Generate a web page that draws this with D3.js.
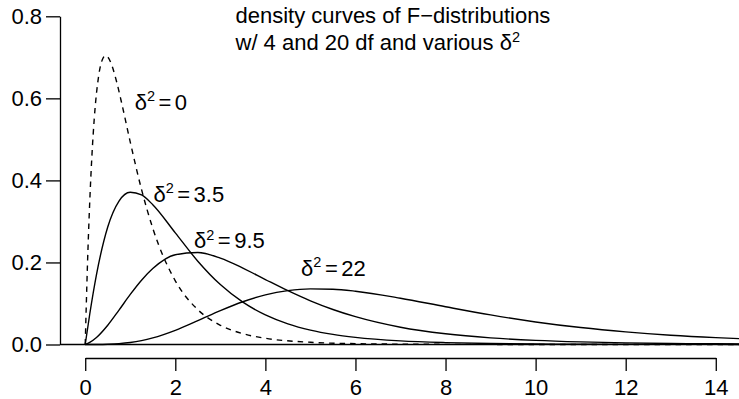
<!DOCTYPE html>
<html>
<head>
<meta charset="utf-8">
<script src="https://cdn.jsdelivr.net/npm/d3@7/dist/d3.min.js"></script>
<style>
  body { margin: 0; background: #fff; }
  svg { display: block; font-family: "Liberation Sans", Arial, Helvetica, sans-serif; }
  .axis path, .axis line { stroke: #000; stroke-width: 1.3; }
  .axis text { font-size: 22px; fill: #000; font-family: "Liberation Sans", Arial, sans-serif; }
  .curve { fill: none; stroke: #000; stroke-width: 1.4; }
  .lbl { font-size: 22px; fill: #000; }
</style>
</head>
<body>
<div id="chart"></div>
<script>
// central F(4, 20) density
const xCentral = [0, 0.05, 0.1, 0.15, 0.2, 0.3, 0.4, 0.45, 0.5, 0.6, 0.7, 0.8, 1, 1.25, 1.5, 2, 2.5, 3, 3.5, 4, 5, 6, 7, 8, 10, 12, 14.6];
const densCentral = [0, 0.1952, 0.3469, 0.4629, 0.5496, 0.6560, 0.6989, 0.7040, 0.7010, 0.6776, 0.6393, 0.5930, 0.4935, 0.3780, 0.2833, 0.1552, 0.0848, 0.0469, 0.0264, 0.0152, 0.0054, 0.0021, 0.0008, 0.0004, 0.0001, 0.0000, 0.0000];

// noncentral curves share one x grid
const xGrid = [0, 0.1, 0.25, 0.5, 0.75, 1, 1.25, 1.5, 2, 2.5, 3, 3.5, 4, 4.5, 5, 5.5, 6, 7, 8, 9, 10, 11, 12, 13, 14, 14.6];
const dens35 = [0, 0.0737, 0.1703, 0.2866, 0.3497, 0.3712, 0.3645, 0.3408, 0.2722, 0.2030, 0.1460, 0.1031, 0.0721, 0.0503, 0.0351, 0.0246, 0.0174, 0.0088, 0.0046, 0.0024, 0.0013, 0.0008, 0.0004, 0.0003, 0.0002, 0.0001];
const dens95 = [0, 0.0051, 0.0171, 0.0470, 0.0839, 0.1220, 0.1567, 0.1851, 0.2188, 0.2243, 0.2105, 0.1863, 0.1584, 0.1311, 0.1065, 0.0854, 0.0678, 0.0421, 0.0261, 0.0161, 0.0100, 0.0063, 0.0040, 0.0026, 0.0017, 0.0013];
const dens22 = [0, 0.0000, 0.0001, 0.0007, 0.0021, 0.0049, 0.0095, 0.0160, 0.0345, 0.0580, 0.0825, 0.1042, 0.1208, 0.1312, 0.1355, 0.1347, 0.1299, 0.1128, 0.0920, 0.0721, 0.0550, 0.0413, 0.0307, 0.0226, 0.0167, 0.0139];

const ncpValues = ['0', '3.5', '9.5', '22'];
const xTicks = [0, 2, 4, 6, 8, 10, 12, 14];
const yTicks = [0, 0.2, 0.4, 0.6, 0.8];
const titleLines = ['density curves of F\u2212distributions', 'w/ 4 and 20 df and various '];

const series = [
  { ncp: ncpValues[0], xs: xCentral, ys: densCentral, dashed: true },
  { ncp: ncpValues[1], xs: xGrid, ys: dens35 },
  { ncp: ncpValues[2], xs: xGrid, ys: dens95 },
  { ncp: ncpValues[3], xs: xGrid, ys: dens22 },
];

// where the text() labels sit, in data units (center x, baseline y)
const labelSpots = [[1.68, 0.572], [2.30, 0.348], [3.20, 0.2346], [5.51, 0.167]];

const W = 739, H = 399;
const plot = { left: 60, right: 741, top: 16.3, bottom: 344.5 };

const svg = d3.select('#chart').append('svg').attr('width', W).attr('height', H);

const x = d3.scaleLinear().domain([-0.56, 14.56]).range([plot.left, plot.right]);
const y = d3.scaleLinear().domain([0, 0.8]).range([plot.bottom, plot.top]);

svg.append('clipPath').attr('id', 'clip')
  .append('rect').attr('x', plot.left).attr('y', 0)
  .attr('width', plot.right - plot.left).attr('height', plot.bottom + 2);

// abline(h = 0)
svg.append('line')
  .attr('x1', plot.left).attr('x2', plot.right)
  .attr('y1', y(0)).attr('y2', y(0))
  .attr('stroke', '#000').attr('stroke-width', 1.3);

// axes (x axis line only spans first..last tick, like R)
const xAx = d3.scaleLinear().domain([0, 14]).range([x(0), x(14)]);
svg.append('g')
  .attr('class', 'axis')
  .attr('transform', 'translate(0,358)')
  .call(d3.axisBottom(xAx).tickValues(xTicks).tickSize(13).tickSizeOuter(0).tickPadding(8));

svg.append('g')
  .attr('class', 'axis')
  .attr('transform', `translate(${plot.left},0)`)
  .call(d3.axisLeft(y).tickValues(yTicks).tickSize(14).tickSizeOuter(0).tickPadding(4).tickFormat(d3.format('.1f')));

// curves
const line = d3.line()
  .x((d) => x(d[0]))
  .y((d) => y(d[1]))
  .curve(d3.curveMonotoneX);

svg.append('g').attr('clip-path', 'url(#clip)')
  .selectAll('path')
  .data(series)
  .join('path')
  .attr('class', 'curve')
  .attr('stroke-dasharray', (d) => (d.dashed ? '5.5,5' : null))
  .attr('d', (d) => line(d.xs.map((v, i) => [v, d.ys[i]])));

// delta^2 = value
function deltaText(sel, px, py, val, anchor) {
  const t = sel.append('text').attr('class', 'lbl')
    .attr('x', px).attr('y', py).attr('text-anchor', anchor);
  t.append('tspan').text('\u03b4');
  t.append('tspan').attr('font-size', 14.5).attr('dy', -8.5).text('2');
  if (val != null) {
    t.append('tspan').attr('dy', 8.5).attr('dx', 3.5).text('=');
    t.append('tspan').attr('dx', 3.5).text(val);
  }
  return t;
}

series.forEach((s, i) => {
  const [lx, ly] = labelSpots[i];
  deltaText(svg, x(lx), y(ly), s.ncp, 'middle');
});

// title, two lines, left aligned
svg.append('text').attr('class', 'lbl')
  .attr('x', 235.5).attr('y', 22.5).text(titleLines[0]);
const t2 = svg.append('text').attr('class', 'lbl').attr('x', 235.5).attr('y', 50);
t2.append('tspan').text(titleLines[1] + '\u03b4');
t2.append('tspan').attr('font-size', 14.5).attr('dy', -8.5).text('2');
</script>
</body>
</html>
